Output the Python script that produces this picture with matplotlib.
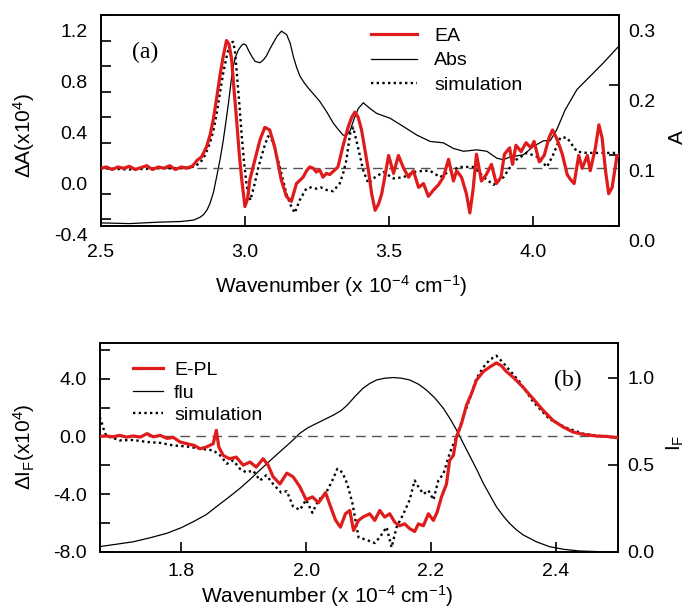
import matplotlib
matplotlib.use('Agg')
import matplotlib.pyplot as plt
from matplotlib.ticker import FixedLocator, FormatStrFormatter
from matplotlib.transforms import ScaledTranslation

plt.rcParams['font.family'] = ['Liberation Sans', 'DejaVu Sans']
plt.rcParams['mathtext.fontset'] = 'custom'
plt.rcParams['mathtext.rm'] = 'Liberation Sans'
plt.rcParams['mathtext.it'] = 'Liberation Sans:italic'
plt.rcParams['axes.unicode_minus'] = False
plt.rcParams['axes.linewidth'] = 1.2

RED = '#e01b1b'
DOT = (0, (1, 1.4))

# ---- panel (a): electroabsorption ----
ea_x = [2.50, 2.52, 2.54, 2.56, 2.58, 2.60, 2.62, 2.64, 2.66, 2.68,
        2.70, 2.72, 2.74, 2.76, 2.78, 2.80, 2.82, 2.834, 2.851, 2.868,
        2.880, 2.891, 2.903, 2.914, 2.926, 2.937, 2.946, 2.955, 2.963, 2.972,
        2.981, 2.990, 3.001, 3.010, 3.018, 3.035, 3.053, 3.070, 3.087, 3.104,
        3.115, 3.127, 3.145, 3.162, 3.180, 3.203, 3.215, 3.226, 3.238, 3.249,
        3.260, 3.272, 3.284, 3.295, 3.310, 3.324, 3.341, 3.359, 3.372, 3.383,
        3.394, 3.406, 3.418, 3.430, 3.441, 3.453, 3.465, 3.476, 3.488, 3.500,
        3.517, 3.534, 3.552, 3.569, 3.586, 3.604, 3.621, 3.638, 3.656, 3.673,
        3.690, 3.708, 3.725, 3.736, 3.753, 3.770, 3.782, 3.793, 3.805, 3.822,
        3.839, 3.857, 3.874, 3.890, 3.902, 3.920, 3.930, 3.942, 3.960, 3.977,
        3.994, 4.005, 4.023, 4.040, 4.057, 4.069, 4.086, 4.103, 4.120, 4.132,
        4.144, 4.160, 4.172, 4.190, 4.200, 4.218, 4.230, 4.241, 4.253, 4.264,
        4.276, 4.293, 4.300]
ea_y = [0.00, 0.01, -0.01, 0.01, 0.00, 0.015, -0.01, 0.005, 0.02, -0.01,
        0.01, 0.0, 0.02, -0.01, 0.01, 0.0, 0.02, 0.06, 0.09, 0.17,
        0.26, 0.38, 0.55, 0.72, 0.88, 1.00, 0.97, 0.85, 0.62, 0.38,
        0.12, -0.09, -0.30, -0.24, -0.09, 0.06, 0.22, 0.32, 0.30, 0.17,
        0.05, -0.09, -0.22, -0.26, -0.12, -0.07, -0.02, 0.01, 0.00, -0.03,
        -0.01, -0.07, -0.04, -0.05, -0.02, 0.01, 0.17, 0.32, 0.40, 0.44,
        0.40, 0.30, 0.14, -0.02, -0.20, -0.33, -0.28, -0.20, -0.05, 0.10,
        -0.04, 0.10, 0.00, -0.07, -0.02, -0.15, -0.12, -0.22, -0.17, -0.13,
        -0.07, 0.07, -0.10, -0.02, -0.07, -0.20, -0.35, -0.17, 0.11, -0.10,
        -0.05, 0.03, -0.12, -0.07, 0.11, 0.16, 0.03, 0.18, 0.13, 0.20,
        0.16, 0.21, 0.05, 0.10, 0.24, 0.30, 0.22, 0.11, -0.05, -0.09,
        -0.12, 0.10, 0.00, 0.10, -0.02, 0.16, 0.34, 0.24, -0.02, -0.20,
        -0.15, 0.10, 0.10]

sim_a_x = [2.50, 2.60, 2.70, 2.78, 2.82, 2.845, 2.862, 2.880, 2.892, 2.903,
           2.915, 2.926, 2.938, 2.949, 2.960, 2.966, 2.972, 2.981, 2.990, 2.998,
           3.007, 3.020, 3.035, 3.047, 3.058, 3.070, 3.081, 3.090, 3.099, 3.110,
           3.122, 3.134, 3.145, 3.160, 3.174, 3.191, 3.214, 3.230, 3.249, 3.265,
           3.284, 3.307, 3.330, 3.342, 3.353, 3.366, 3.377, 3.394, 3.412, 3.430,
           3.453, 3.482, 3.517, 3.552, 3.586, 3.621, 3.644, 3.679, 3.713, 3.748,
           3.795, 3.830, 3.864, 3.899, 3.922, 3.945, 3.980, 4.015, 4.050, 4.072,
           4.096, 4.119, 4.154, 4.188, 4.246, 4.300]
sim_a_y = [0.0, -0.01, 0.0, 0.0, 0.01, 0.04, 0.10, 0.20, 0.30, 0.43,
           0.60, 0.75, 0.88, 0.98, 0.99, 0.92, 0.77, 0.52, 0.25, 0.05,
           -0.14, -0.25, -0.12, 0.00, 0.09, 0.18, 0.25, 0.24, 0.20, 0.11,
           0.01, -0.10, -0.20, -0.29, -0.35, -0.25, -0.16, -0.15, -0.16, -0.15,
           -0.17, -0.18, -0.12, -0.04, 0.06, 0.27, 0.32, 0.16, -0.02, -0.12,
           -0.07, -0.03, -0.08, -0.07, -0.03, -0.02, -0.02, -0.07, -0.02, 0.01,
           0.01, -0.07, -0.13, -0.07, 0.01, 0.07, 0.12, 0.09, 0.01, 0.11,
           0.24, 0.24, 0.13, 0.12, 0.12, 0.12]

abs_x = [2.50, 2.60, 2.70, 2.78, 2.823, 2.845, 2.858, 2.870, 2.880, 2.892,
         2.903, 2.915, 2.926, 2.935, 2.944, 2.952, 2.960, 2.970, 2.978, 2.988,
         2.996, 3.005, 3.013, 3.025, 3.036, 3.053, 3.065, 3.076, 3.088, 3.099,
         3.113, 3.128, 3.146, 3.158, 3.169, 3.180, 3.192, 3.206, 3.221, 3.240,
         3.261, 3.285, 3.308, 3.325, 3.342, 3.352, 3.366, 3.380, 3.395, 3.412,
         3.435, 3.458, 3.505, 3.552, 3.598, 3.644, 3.690, 3.725, 3.760, 3.806,
         3.841, 3.876, 3.899, 3.922, 3.968, 4.003, 4.038, 4.061, 4.084, 4.113,
         4.154, 4.200, 4.246, 4.300]
abs_y = [0.004, 0.003, 0.005, 0.006, 0.008, 0.012, 0.016, 0.023, 0.032, 0.048,
         0.070, 0.095, 0.122, 0.148, 0.175, 0.202, 0.227, 0.242, 0.250, 0.256,
         0.259, 0.257, 0.250, 0.241, 0.234, 0.232, 0.236, 0.242, 0.252, 0.260,
         0.270, 0.277, 0.272, 0.260, 0.241, 0.226, 0.213, 0.204, 0.196, 0.187,
         0.177, 0.162, 0.146, 0.137, 0.129, 0.128, 0.135, 0.152, 0.167, 0.175,
         0.167, 0.160, 0.153, 0.141, 0.129, 0.120, 0.118, 0.110, 0.106, 0.108,
         0.106, 0.096, 0.094, 0.098, 0.101, 0.113, 0.121, 0.121, 0.137, 0.165,
         0.194, 0.213, 0.232, 0.256]

# ---- panel (b): electrophotoluminescence ----
epl_x = [1.669, 1.680, 1.690, 1.701, 1.712, 1.723, 1.734, 1.745, 1.755, 1.766,
         1.777, 1.787, 1.798, 1.809, 1.820, 1.830, 1.840, 1.851, 1.856, 1.860,
         1.867, 1.877, 1.888, 1.899, 1.910, 1.920, 1.931, 1.939, 1.947, 1.958,
         1.969, 1.979, 1.990, 2.000, 2.010, 2.020, 2.031, 2.039, 2.047, 2.055,
         2.063, 2.070, 2.076, 2.084, 2.091, 2.102, 2.110, 2.118, 2.126, 2.134,
         2.142, 2.150, 2.158, 2.166, 2.174, 2.180, 2.188, 2.196, 2.204, 2.210,
         2.217, 2.225, 2.230, 2.236, 2.241, 2.249, 2.257, 2.265, 2.273, 2.284,
         2.294, 2.305, 2.313, 2.321, 2.332, 2.348, 2.364, 2.380, 2.396, 2.412,
         2.428, 2.444, 2.466, 2.482, 2.498]
epl_y = [0.0, 0.03, -0.03, 0.07, -0.05, 0.03, -0.05, 0.19, -0.03, 0.07,
         -0.14, -0.07, -0.39, -0.51, -0.62, -0.86, -0.74, -0.51, 0.42, -0.74,
         -1.32, -1.55, -1.44, -2.0, -1.78, -2.13, -1.55, -2.0, -2.8, -3.3,
         -2.55, -2.8, -3.5, -4.4, -4.2, -4.6, -3.9, -4.85, -5.8, -6.3,
         -5.37, -5.14, -6.53, -5.83, -5.6, -5.37, -5.83, -5.14, -5.6, -5.37,
         -5.95, -6.2, -6.07, -6.4, -6.6, -6.07, -6.2, -5.37, -5.83, -5.26,
         -4.2, -3.3, -1.67, -1.32, -0.05, 0.88, 2.15, 2.96, 3.9, 4.5,
         4.8, 5.1, 4.9, 4.5, 4.1, 3.4, 2.6, 1.8, 1.1, 0.65,
         0.3, 0.14, 0.02, 0.0, -0.09]

sim_b_x = [1.669, 1.672, 1.676, 1.680, 1.690, 1.701, 1.723, 1.745, 1.766, 1.787,
           1.809, 1.830, 1.851, 1.862, 1.873, 1.883, 1.894, 1.904, 1.915, 1.926,
           1.936, 1.947, 1.960, 1.969, 1.979, 1.990, 2.000, 2.010, 2.020, 2.031,
           2.042, 2.050, 2.058, 2.066, 2.074, 2.084, 2.098, 2.110, 2.118, 2.129,
           2.137, 2.145, 2.156, 2.166, 2.174, 2.180, 2.188, 2.196, 2.204, 2.212,
           2.220, 2.230, 2.241, 2.252, 2.263, 2.273, 2.284, 2.294, 2.305, 2.316,
           2.326, 2.342, 2.364, 2.390, 2.417, 2.444, 2.476, 2.498]
sim_b_y = [1.34, 1.0, 0.4, 0.0, -0.1, -0.28, -0.25, -0.39, -0.45, -0.63,
           -0.7, -0.86, -0.97, -1.32, -1.9, -1.67, -2.25, -2.5, -2.37, -3.06,
           -2.7, -3.3, -3.9, -3.8, -4.86, -5.1, -4.4, -5.3, -4.4, -4.0,
           -3.06, -2.25, -2.5, -3.3, -4.6, -7.0, -7.2, -7.4, -7.0, -6.3,
           -7.7, -6.3, -5.37, -4.4, -3.06, -3.5, -4.0, -3.75, -4.4, -3.06,
           -2.6, -1.2, 0.0, 1.34, 2.7, 4.0, 4.8, 5.3, 5.6, 5.1,
           4.6, 3.8, 2.4, 1.2, 0.6, 0.19, 0.0, -0.09]

flu_x = [1.669, 1.700, 1.723, 1.750, 1.777, 1.800, 1.819, 1.840, 1.856, 1.875,
         1.894, 1.910, 1.926, 1.942, 1.958, 1.975, 1.990, 2.003, 2.017, 2.030,
         2.044, 2.056, 2.066, 2.078, 2.091, 2.102, 2.113, 2.126, 2.140, 2.153,
         2.166, 2.180, 2.193, 2.207, 2.220, 2.231, 2.241, 2.252, 2.263, 2.274,
         2.284, 2.295, 2.305, 2.316, 2.326, 2.337, 2.348, 2.369, 2.390, 2.412,
         2.438, 2.470, 2.498]
flu_y = [0.029, 0.045, 0.057, 0.080, 0.106, 0.138, 0.172, 0.213, 0.258, 0.310,
         0.364, 0.415, 0.469, 0.522, 0.574, 0.628, 0.680, 0.712, 0.737, 0.760,
         0.785, 0.810, 0.842, 0.890, 0.938, 0.966, 0.986, 0.996, 1.000, 0.996,
         0.986, 0.962, 0.928, 0.880, 0.823, 0.762, 0.699, 0.622, 0.545, 0.468,
         0.393, 0.322, 0.258, 0.205, 0.163, 0.126, 0.096, 0.057, 0.029, 0.014,
         0.004, 0.0, 0.0]


def style_axes(ax, axr, xpad):
    ax.yaxis.tick_left()
    ax.tick_params(axis='both', which='both', direction='in', length=7,
                   width=1.2, labelsize=14)
    ax.tick_params(axis='y', which='both', pad=9.5)
    ax.tick_params(axis='x', pad=xpad)
    axr.tick_params(axis='y', which='both', direction='in', length=7,
                    width=1.2, labelsize=14, pad=6.5)
    ax.set_zorder(axr.get_zorder() + 1)
    ax.patch.set_visible(False)


fig = plt.figure(figsize=(6.86, 6.10), dpi=100)

# top panel
ax1 = fig.add_axes([0.1467, 0.630, 0.7557, 0.3454])
ax1r = ax1.twinx()
ax1.axhline(0, color='#555555', lw=1.0, ls=(0, (7, 4.5)), zorder=1)
l_abs, = ax1r.plot(abs_x, abs_y, color='black', lw=0.9)
l_sim, = ax1.plot(sim_a_x, sim_a_y, color='black', lw=1.7, ls=DOT, zorder=2)
l_ea, = ax1.plot(ea_x, ea_y, color=RED, lw=2.3, zorder=3)

ax1.set_xlim(2.5, 4.3)
ax1.set_ylim(-0.45, 1.2)
ax1r.set_ylim(0, 0.3)
ax1.xaxis.set_major_locator(FixedLocator([2.5, 3.0, 3.5, 4.0]))
ax1.xaxis.set_major_formatter(FormatStrFormatter('%.1f'))
ax1.yaxis.set_major_locator(FixedLocator([-0.4, 0.0, 0.4, 0.8, 1.2]))
ax1.yaxis.set_minor_locator(FixedLocator([-0.2, 0.2, 0.6, 1.0]))
ax1.yaxis.set_major_formatter(FormatStrFormatter('%.1f'))
ax1r.yaxis.set_major_locator(FixedLocator([0.0, 0.1, 0.2, 0.3]))
ax1r.yaxis.set_major_formatter(FormatStrFormatter('%.1f'))
style_axes(ax1, ax1r, 13)

ax1.set_xlabel('Wavenumber (x 10$^{-4}$ cm$^{-1}$)', fontsize=15)
ax1.xaxis.set_label_coords(0.464, -0.288)
ax1.xaxis.label.set_va('center')
ax1.set_ylabel('ΔA(x10$^{4}$)', fontsize=15, va='center', ha='center')
ax1.yaxis.set_label_coords(-0.148, 0.43)
ax1r.set_ylabel('A', fontsize=15, va='center', ha='center', rotation=90)
ax1r.yaxis.set_label_coords(1.112, 0.42)

ax1.text(0.086, 0.82, '(a)', transform=ax1.transAxes, family='Liberation Serif',
         fontsize=17, ha='center', va='center')
ax1.legend([l_ea, l_abs, l_sim], ['EA', 'Abs', 'simulation'], loc='upper left',
           bbox_to_anchor=(0.522, 0.942), frameon=False, fontsize=14,
           handlelength=2.37, handletextpad=0.88, labelspacing=0.36,
           borderpad=0, borderaxespad=0)

# tick labels of panel (a) sit a little below their tick marks
shift = ScaledTranslation(0, -0.15, fig.dpi_scale_trans)
for lab in ax1.get_yticklabels() + ax1r.get_yticklabels():
    lab.set_transform(lab.get_transform() + shift)

# bottom panel
ax2 = fig.add_axes([0.1453, 0.0956, 0.7556, 0.3426])
ax2r = ax2.twinx()
ax2.axhline(0, color='#555555', lw=1.0, ls=(0, (7, 4.5)), zorder=1)
l_flu, = ax2r.plot(flu_x, flu_y, color='black', lw=0.9)
l_sim2, = ax2.plot(sim_b_x, sim_b_y, color='black', lw=1.7, ls=DOT, zorder=2)
l_epl, = ax2.plot(epl_x, epl_y, color=RED, lw=2.3, zorder=3)

ax2.set_xlim(1.669, 2.50)
ax2.set_ylim(-8.0, 6.5)
ax2r.set_ylim(0, 1.2)
ax2.xaxis.set_major_locator(FixedLocator([1.8, 2.0, 2.2, 2.4]))
ax2.xaxis.set_major_formatter(FormatStrFormatter('%.1f'))
ax2.yaxis.set_major_locator(FixedLocator([-8.0, -4.0, 0.0, 4.0]))
ax2.yaxis.set_minor_locator(FixedLocator([-6.0, -2.0, 2.0, 6.0]))
ax2.yaxis.set_major_formatter(FormatStrFormatter('%.1f'))
ax2r.yaxis.set_major_locator(FixedLocator([0.0, 0.5, 1.0]))
ax2r.yaxis.set_major_formatter(FormatStrFormatter('%.1f'))
style_axes(ax2, ax2r, 8)

ax2.set_xlabel('Wavenumber (x 10$^{-4}$ cm$^{-1}$)', fontsize=15)
ax2.xaxis.set_label_coords(0.4386, -0.21)
ax2.xaxis.label.set_va('center')
ax2.set_ylabel(r'ΔI$_{\mathrm{F}}$(x10$^{4}$)', fontsize=15, va='center', ha='center')
ax2.yaxis.set_label_coords(-0.146, 0.5)
ax2r.set_ylabel(r'I$_{\mathrm{F}}$', fontsize=15, va='center', ha='center', rotation=90)
ax2r.yaxis.set_label_coords(1.11, 0.52)

ax2.text(0.9035, 0.821, '(b)', transform=ax2.transAxes, family='Liberation Serif',
         fontsize=17, ha='center', va='center')
ax2.legend([l_epl, l_flu, l_sim2], ['E-PL', 'flu', 'simulation'], loc='upper left',
           bbox_to_anchor=(0.064, 0.91), frameon=False, fontsize=14,
           handlelength=1.55, handletextpad=0.57, labelspacing=0.25,
           borderpad=0, borderaxespad=0)

fig.savefig('out.png', dpi=100)
